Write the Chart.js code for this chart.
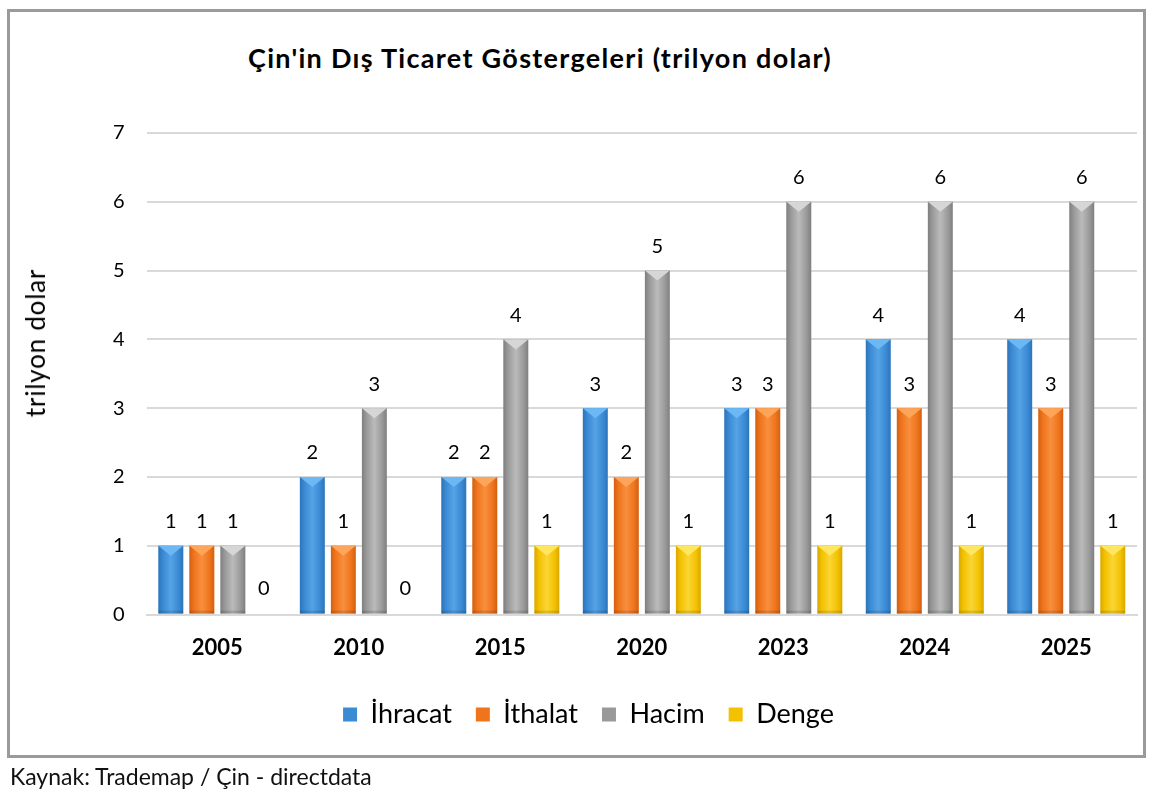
<!DOCTYPE html>
<html>
<head>
<meta charset="utf-8">
<script src="https://cdn.jsdelivr.net/npm/chart.js@4"></script>
<style>
  body { margin: 0; background: #fff; font-family: Lato, sans-serif; }
  #frame { position: absolute; left: 7px; top: 9px; width: 1133px; height: 743px; border: 3px solid #9a9a9a; }
  #title { position: absolute; left: 0; top: 41px; width: 1080px; text-align: center; font: bold 27px Lato; letter-spacing: 1.3px; line-height: 34px; color: #000; }
  #ytitle { position: absolute; left: 35px; top: 343px; transform: translate(-50%, -50%) rotate(-90deg); font: 26px Lato; letter-spacing: 0.8px; line-height: 30px; white-space: nowrap; color: #000; }
  #wrap { position: absolute; left: 0; top: 0; width: 1160px; height: 793px; }
  #source { position: absolute; left: 10px; top: 762px; font: 23px Lato; line-height: 28px; color: #111; }
</style>
</head>
<body>
<div id="frame"></div>
<div id="title">Çin'in Dış Ticaret Göstergeleri (trilyon dolar)</div>
<div id="wrap"><canvas id="graph" width="1160" height="793"></canvas></div>
<div id="ytitle">trilyon dolar</div>
<div id="source">Kaynak: Trademap / Çin - directdata</div>
<script>
const years = ["2005", "2010", "2015", "2020", "2023", "2024", "2025"];
const ihracat = [1, 2, 2, 3, 3, 4, 4];
const ithalat = [1, 1, 2, 2, 3, 3, 3];
const hacim = [1, 3, 4, 5, 6, 6, 6];
const denge = [0, 0, 1, 1, 1, 1, 1];
const yTicks = [0, 1, 2, 3, 4, 5, 6, 7];

// base / light / dark for the bevel look
const shades = [
  ["#3a8ad4", "#6cb8f4", "#2262a4"],
  ["#ef741c", "#ffa55a", "#bb500a"],
  ["#999999", "#d6d6d6", "#6a6a6a"],
  ["#f3c100", "#ffe660", "#c49400"],
];

Chart.defaults.font.family = "Lato";
Chart.defaults.color = "#000";

// bevel overlay + value labels on top of the bars
const bevel = {
  id: "bevel",
  afterDatasetsDraw(chart) {
    const ctx = chart.ctx;
    chart.data.datasets.forEach((ds, di) => {
      const meta = chart.getDatasetMeta(di);
      const [base, light, dark] = shades[di];
      meta.data.forEach((bar, i) => {
        const { x, y, base: b, width } = bar.getProps(["x", "y", "base", "width"], true);
        const l = x - width / 2, r = x + width / 2;
        const h = b - y;
        ctx.save();
        if (h > 0) {
          const g = ctx.createLinearGradient(l, 0, r, 0);
          g.addColorStop(0, dark);
          g.addColorStop(0.18, base);
          g.addColorStop(0.5, light);
          g.addColorStop(0.82, base);
          g.addColorStop(1, dark);
          ctx.globalAlpha = 0.55;
          ctx.fillStyle = g;
          ctx.fillRect(l, y, width, h);
          ctx.globalAlpha = 1;
          const d = Math.min(10, h);
          ctx.beginPath();
          ctx.moveTo(l, y);
          ctx.lineTo(r, y);
          ctx.lineTo(x, y + d);
          ctx.closePath();
          ctx.fillStyle = light;
          ctx.fill();
          ctx.fillStyle = "rgba(0,0,0,0.12)";
          ctx.fillRect(l, b - 3, width, 3);
        }
        ctx.fillStyle = "#000";
        ctx.font = "20px Lato";
        ctx.textAlign = "center";
        ctx.textBaseline = "middle";
        ctx.fillText(String(ds.data[i]), x, y - (h > 0 ? 24 : 26));
        ctx.restore();
      });
    });
  },
};

const graph = document.getElementById("graph").getContext("2d");

const myChart = new Chart(graph, {
  type: "bar",
  data: {
    labels: years,
    datasets: [
      { label: "İhracat", data: ihracat, backgroundColor: shades[0][0], borderWidth: 0 },
      { label: "İthalat", data: ithalat, backgroundColor: shades[1][0], borderWidth: 0 },
      { label: "Hacim", data: hacim, backgroundColor: shades[2][0], borderWidth: 0 },
      { label: "Denge", data: denge, backgroundColor: shades[3][0], borderWidth: 0 },
    ],
  },
  options: {
    responsive: false,
    animation: false,
    categoryPercentage: 0.877,
    barPercentage: 0.8,
    layout: {
      padding: { top: 133, left: 40, right: 23, bottom: 55 },
    },
    scales: {
      x: {
        grid: { display: false, drawTicks: false },
        border: { display: true, color: "#d9d9d9", width: 2 },
        ticks: { padding: 20, font: { size: 22, weight: "bold" } },
        afterFit(scale) {
          scale.height -= 4;
        },
      },
      y: {
        min: 0,
        max: 7,
        afterBuildTicks(scale) {
          scale.ticks = yTicks.map((v) => ({ value: v }));
        },
        afterFit(scale) {
          scale.width += 51;
        },
        grid: { color: "#d9d9d9", lineWidth: 2, drawTicks: false },
        border: { display: false },
        ticks: { padding: 22, font: { size: 20 } },
      },
    },
    plugins: {
      title: { display: false },
      tooltip: { enabled: false },
      legend: {
        position: "bottom",
        labels: {
          boxWidth: 14,
          boxHeight: 14,
          padding: 24,
          font: { size: 27 },
          useBorderRadius: false,
        },
      },
    },
  },
  plugins: [bevel],
});
</script>
</body>
</html>
